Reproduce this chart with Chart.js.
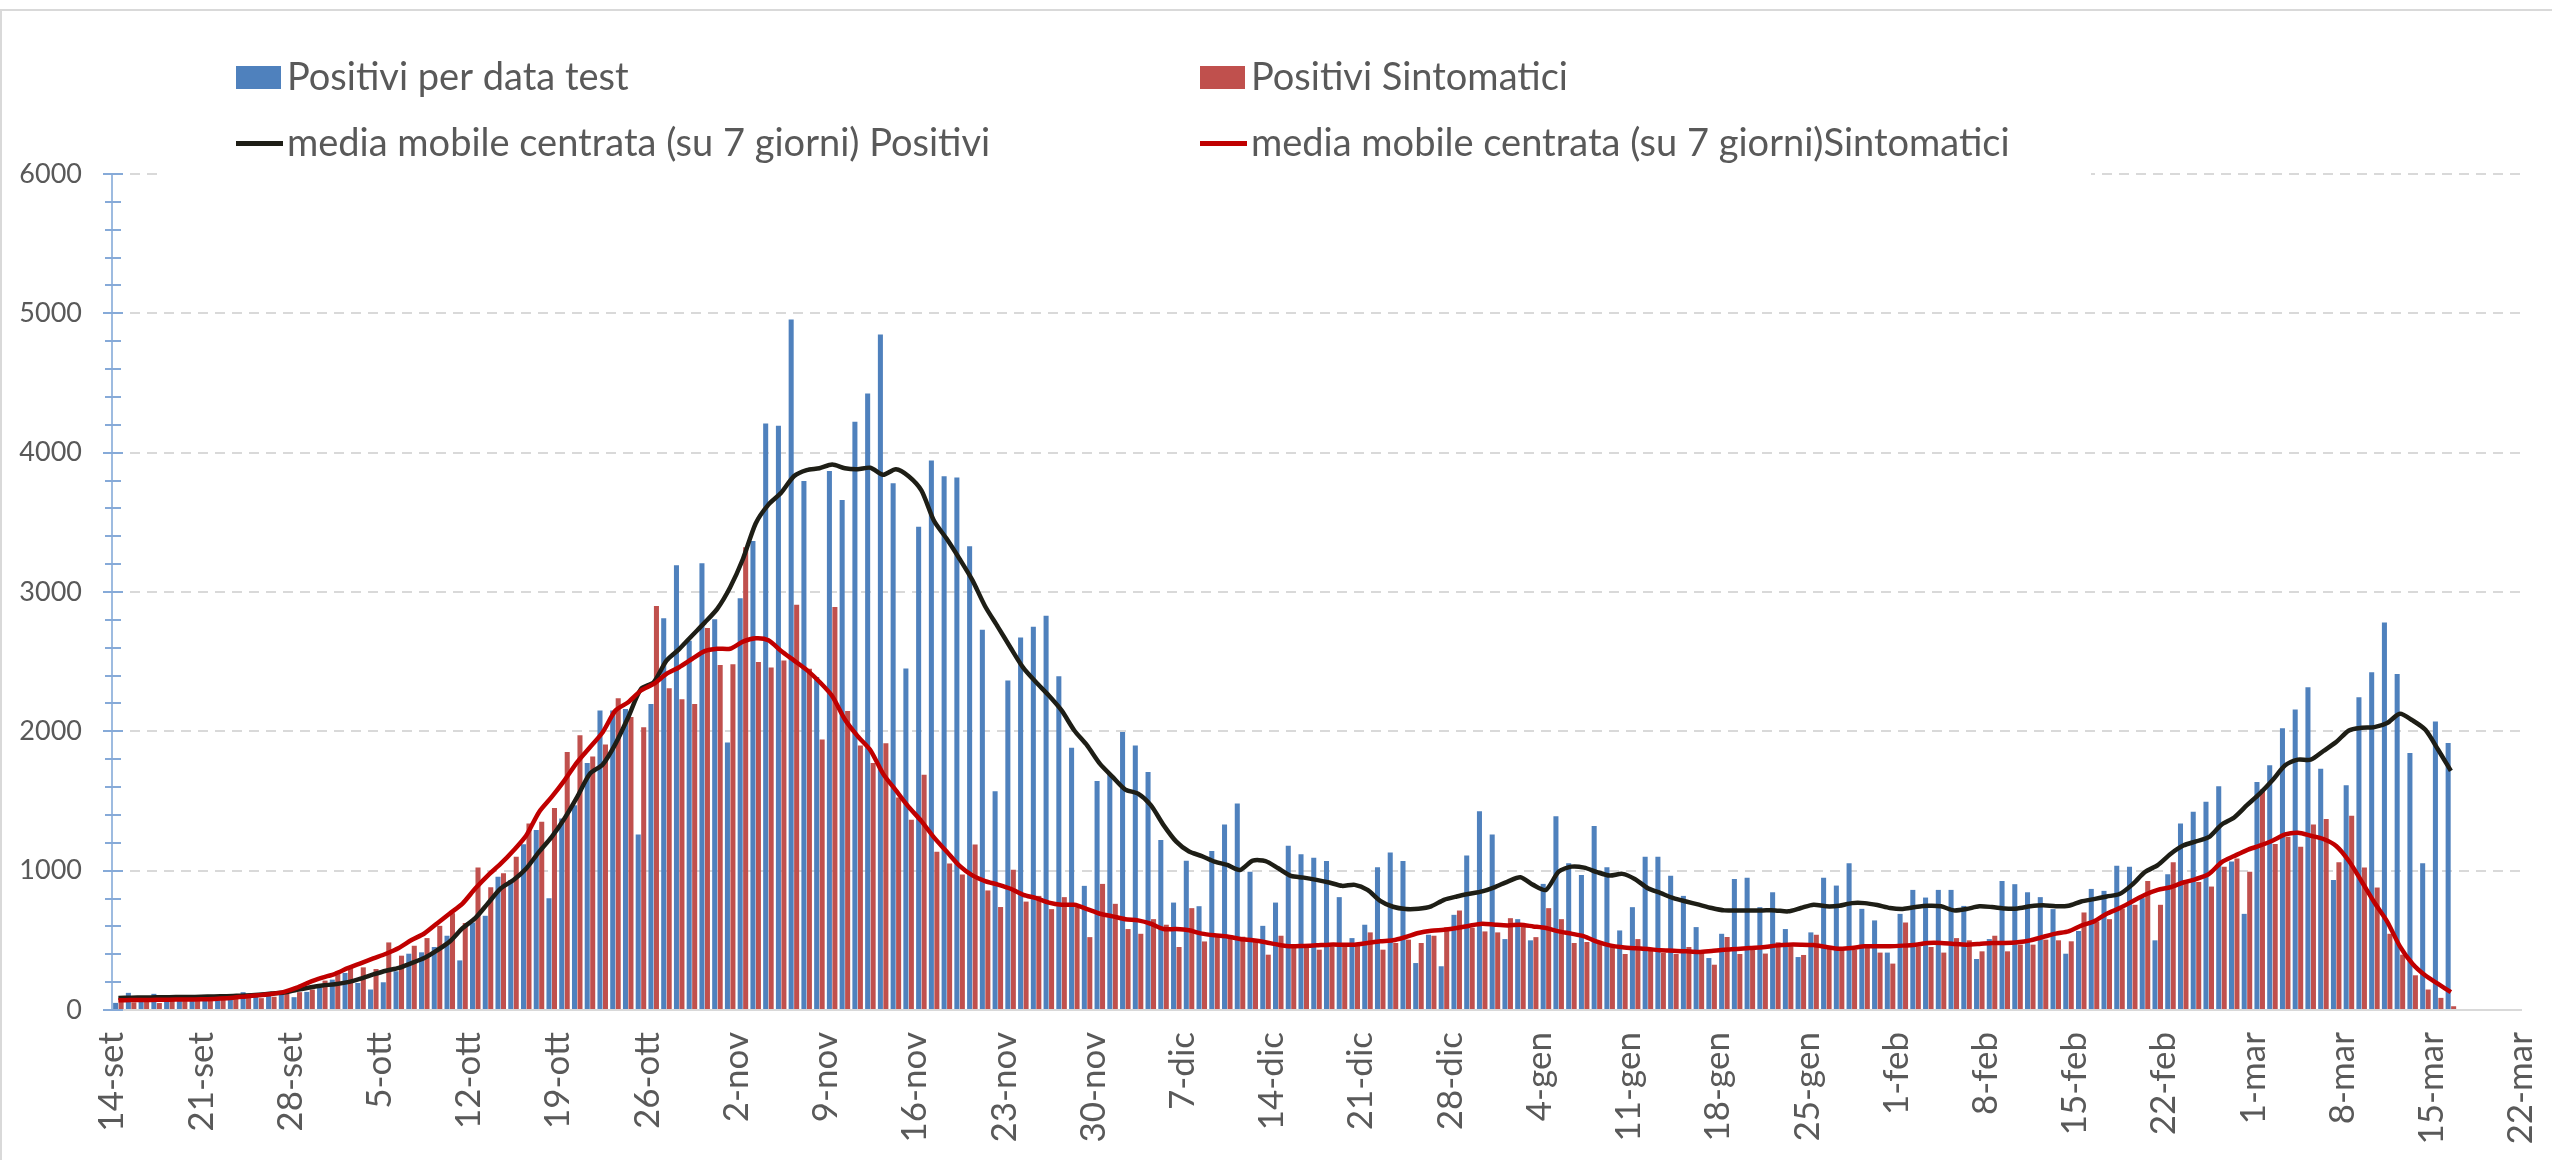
<!DOCTYPE html>
<html>
<head>
<meta charset="utf-8">
<title>Positivi per data test</title>
<script src="https://cdn.jsdelivr.net/npm/chart.js@4.4.1/dist/chart.umd.min.js"></script>
<style>
  body { margin: 0; background: #fff; }
</style>
</head>
<body>
<canvas id="myChart" width="2552" height="1160"></canvas>
<script>
// etichette asse x (una ogni 7 giorni, dal 14-set al 22-mar)
const weekLabels = ['14-set', '21-set', '28-set', '5-ott', '12-ott', '19-ott', '26-ott',
    '2-nov', '9-nov', '16-nov', '23-nov', '30-nov', '7-dic', '14-dic', '21-dic', '28-dic',
    '4-gen', '11-gen', '18-gen', '25-gen', '1-feb', '8-feb', '15-feb', '22-feb',
    '1-mar', '8-mar', '15-mar', '22-mar'];

const yTicks = [0, 1000, 2000, 3000, 4000, 5000, 6000];

// valori giornalieri dal 14-set al 16-mar
const positivi = [
    51, 123, 58, 116, 75, 80, 65, 85, 80, 95,
    128, 95, 110, 122, 92, 130, 159, 218, 266, 194,
    147, 199, 278, 404, 414, 452, 533, 356, 628, 676,
    957, 933, 1189, 1291, 802, 1375, 1470, 1773, 2150, 2150,
    2161, 1260, 2197, 2812, 3192, 2650, 3206, 2805, 1920, 2956,
    3366, 4210, 4193, 4956, 3797, 2390, 3868, 3661, 4221, 4424,
    4848, 3780, 2451, 3468, 3943, 3831, 3821, 3329, 2729, 1570,
    2364, 2674, 2750, 2829, 2395, 1883, 891, 1644, 1692, 1995,
    1899, 1708, 1220, 771, 1072, 745, 1141, 1332, 1482, 993,
    604, 771, 1179, 1117, 1093, 1069, 810, 516, 612, 1024,
    1131, 1069, 337, 540, 314, 683, 1108, 1427, 1260, 509,
    652, 500, 905, 1391, 1053, 969, 1320, 1024, 571, 738,
    1100, 1100, 964, 819, 595, 373, 547, 941, 950, 738,
    845, 581, 380, 557, 950, 893, 1053, 726, 643, 412,
    690, 862, 807, 862, 862, 747, 366, 509, 926, 903,
    845, 810, 724, 404, 567, 869, 855, 1036, 1029, 803,
    500, 974, 1339, 1422, 1494, 1606, 1065, 690, 1637, 1756,
    2023, 2157, 2316, 1732, 933, 1613, 2245, 2424, 2781, 2412,
    1844, 1053, 2071, 1916
];

const sintomatici = [
    60, 55, 65, 50, 75, 70, 80, 75, 85, 80,
    90, 85, 95, 115, 128, 147, 211, 278, 314, 306,
    294, 485, 390, 461, 516, 604, 695, 624, 1022, 881,
    981, 1100, 1339, 1351, 1450, 1851, 1971, 1820, 1906, 2238,
    2102, 2030, 2900, 2309, 2230, 2197, 2741, 2476, 2481, 3322,
    2498, 2458, 2509, 2909, 2450, 1942, 2892, 2146, 1898, 1773,
    1915, 1526, 1366, 1688, 1136, 1051, 973, 1187, 858, 739,
    1007, 778, 819, 724, 810, 738, 523, 905, 762, 581,
    547, 652, 612, 452, 731, 492, 523, 512, 526, 492,
    397, 533, 457, 457, 433, 457, 457, 469, 557, 433,
    481, 505, 481, 533, 593, 714, 590, 564, 557, 659,
    612, 523, 731, 652, 481, 488, 481, 457, 402, 509,
    445, 409, 402, 452, 421, 325, 524, 402, 433, 405,
    486, 457, 395, 540, 457, 433, 433, 462, 412, 333,
    628, 457, 452, 412, 516, 500, 421, 533, 421, 469,
    469, 505, 500, 493, 700, 636, 652, 729, 755, 926,
    755, 1060, 917, 919, 886, 1029, 1088, 993, 1582, 1191,
    1243, 1172, 1332, 1370, 1060, 1394, 1022, 879, 547, 397,
    249, 147, 87, 27
];

// media mobile centrata su 7 giorni
const mediaPositivi = [
    87, 88, 90, 91, 92, 93, 94, 96, 98, 101,
    104, 110, 118, 125, 145, 162, 176, 185, 200, 225,
    255, 282, 302, 337, 373, 428, 492, 587, 659, 766,
    873, 933, 1016, 1135, 1243, 1374, 1529, 1696, 1762, 1910,
    2101, 2304, 2352, 2507, 2590, 2686, 2780, 2881, 3034, 3237,
    3492, 3627, 3712, 3831, 3875, 3888, 3915, 3888, 3881, 3892,
    3841, 3881, 3831, 3729, 3509, 3380, 3237, 3085, 2898, 2750,
    2600, 2455, 2352, 2257, 2150, 2006, 1899, 1768, 1673, 1582,
    1553, 1470, 1327, 1208, 1137, 1105, 1065, 1041, 1005, 1072,
    1069, 1017, 962, 950, 934, 915, 891, 898, 862, 784,
    741, 725, 727, 744, 791, 815, 834, 851, 882, 922,
    953, 898, 862, 993, 1029, 1022, 990, 965, 977, 939,
    874, 839, 803, 779, 756, 732, 715, 715, 715, 715,
    715, 708, 732, 756, 744, 748, 767, 767, 753, 732,
    725, 739, 748, 744, 715, 725, 744, 739, 729, 729,
    744, 751, 744, 748, 779, 796, 815, 832, 900, 990,
    1040, 1120, 1180, 1210, 1240, 1330, 1382, 1470, 1553, 1649,
    1756, 1797, 1797, 1859, 1923, 2006, 2025, 2030, 2059, 2126,
    2078, 2011, 1868, 1716
];

const mediaSintomatici = [
    70, 71, 72, 73, 74, 75, 76, 78, 82, 88,
    97, 106, 115, 130, 160, 200, 232, 260, 300, 335,
    370, 404, 445, 502, 549, 621, 693, 764, 872, 967,
    1050, 1145, 1253, 1420, 1529, 1648, 1779, 1886, 1994, 2149,
    2209, 2293, 2340, 2412, 2460, 2519, 2576, 2593, 2593, 2644,
    2668, 2654, 2576, 2509, 2441, 2356, 2254, 2085, 1966, 1865,
    1695, 1576, 1458, 1356, 1237, 1136, 1034, 966, 925, 900,
    870, 826, 803, 771, 755, 755, 724, 691, 672, 652,
    643, 619, 581, 581, 572, 548, 536, 528, 510, 500,
    486, 469, 457, 460, 464, 469, 469, 469, 481, 493,
    500, 524, 553, 569, 576, 588, 605, 619, 612, 607,
    612, 600, 588, 564, 548, 529, 490, 464, 450, 443,
    438, 428, 426, 421, 416, 424, 433, 438, 445, 450,
    462, 469, 469, 466, 452, 440, 445, 457, 457, 457,
    462, 469, 481, 481, 474, 469, 474, 481, 481, 486,
    500, 524, 548, 564, 605, 636, 691, 731, 779, 827,
    862, 881, 915, 940, 975, 1060, 1105, 1148, 1179, 1215,
    1260, 1272, 1251, 1227, 1177, 1069, 922, 771, 635, 457,
    330, 247, 187, 128
];

// ogni giorno sta al centro della sua fascia sull'asse lineare
const toPoints = arr => arr.map((v, i) => ({ x: i + 0.5, y: v }));

const FONT = 'Lato';
const GREY_TEXT = '#595959';

// legenda a 2 colonne, tick minori asse y e cornice
const decor = {
    id: 'decor',
    afterDraw(chart) {
        const ctx = chart.ctx;
        const y = chart.scales.y;
        ctx.save();

        // tacche asse y (ogni 200)
        ctx.strokeStyle = '#86aad8';
        ctx.lineWidth = 2;
        for (let v = 0; v <= yTicks[yTicks.length - 1]; v += 200) {
            const py = Math.round(y.getPixelForValue(v));
            const major = v % 1000 === 0;
            ctx.beginPath();
            ctx.moveTo(major ? 103 : 105, py);
            ctx.lineTo(major ? 123 : 121, py);
            ctx.stroke();
        }

        // sfondo della legenda sopra la griglia dei 6000
        ctx.fillStyle = '#fff';
        ctx.fillRect(163, 168, 1928, 12);

        const pos = [[236, 77], [1200, 77], [236, 143], [1200, 143]];
        ctx.font = '38px ' + FONT;
        ctx.textBaseline = 'middle';
        chart.data.datasets.forEach((ds, i) => {
            const [lx, ly] = pos[i];
            if (ds.type === 'line') {
                ctx.fillStyle = ds.borderColor;
                ctx.fillRect(lx, ly - 2, 47, 5);
            } else {
                ctx.fillStyle = ds.backgroundColor;
                ctx.fillRect(lx, ly - 11, 45, 23);
            }
            ctx.fillStyle = GREY_TEXT;
            ctx.fillText(ds.label, lx + 51, ly + 1);
        });

        // cornice del grafico
        ctx.strokeStyle = '#d9d9d9';
        ctx.lineWidth = 2;
        ctx.strokeRect(1, 10, 2600, 1300);
        ctx.restore();
    }
};

const ctxChart = document.getElementById('myChart');

new Chart(ctxChart, {
    type: 'bar',
    data: {
        datasets: [{
            type: 'bar',
            label: 'Positivi per data test',
            data: toPoints(positivi),
            backgroundColor: '#4f81bd',
            categoryPercentage: 0.86,
            barPercentage: 0.92,
            order: 3
        }, {
            type: 'bar',
            label: 'Positivi Sintomatici',
            data: toPoints(sintomatici),
            backgroundColor: '#c0504d',
            categoryPercentage: 0.86,
            barPercentage: 0.92,
            order: 3
        }, {
            type: 'line',
            label: 'media mobile centrata (su 7 giorni) Positivi',
            data: toPoints(mediaPositivi),
            borderColor: '#1e1e16',
            borderWidth: 4.5,
            pointRadius: 0,
            tension: 0.25,
            order: 2
        }, {
            type: 'line',
            label: 'media mobile centrata (su 7 giorni)Sintomatici',
            data: toPoints(mediaSintomatici),
            borderColor: '#c00000',
            borderWidth: 4.5,
            pointRadius: 0,
            tension: 0.25,
            order: 1
        }]
    },
    options: {
        responsive: false,
        animation: false,
        layout: { padding: { left: 0, top: 174, right: 31, bottom: 0 } },
        plugins: {
            legend: { display: false },
            tooltip: { enabled: false }
        },
        scales: {
            x: {
                type: 'linear',
                min: 0,
                max: 189,
                offset: false,
                grid: { display: false },
                border: { display: true, color: '#d9d9d9', width: 2 },
                ticks: {
                    stepSize: 7,
                    autoSkip: false,
                    minRotation: 90,
                    maxRotation: 90,
                    padding: 14,
                    color: GREY_TEXT,
                    font: { family: FONT, size: 35 },
                    callback: v => weekLabels[Math.round(v / 7)]
                },
                afterFit: s => {
                    s.height = 150;
                    s.paddingLeft = 0;
                    s.paddingRight = 0;
                }
            },
            y: {
                min: 0,
                max: 6000,
                grid: { color: '#d9d9d9', lineWidth: 2, drawTicks: false },
                border: { display: true, color: '#9dbbe0', width: 2, dash: [10, 7] },
                ticks: {
                    stepSize: 1000,
                    padding: 30,
                    color: GREY_TEXT,
                    font: { family: FONT, size: 27 },
                    callback: v => String(v)
                },
                afterFit: s => { s.width = 112; }
            }
        }
    },
    plugins: [decor]
});
</script>
</body>
</html>
